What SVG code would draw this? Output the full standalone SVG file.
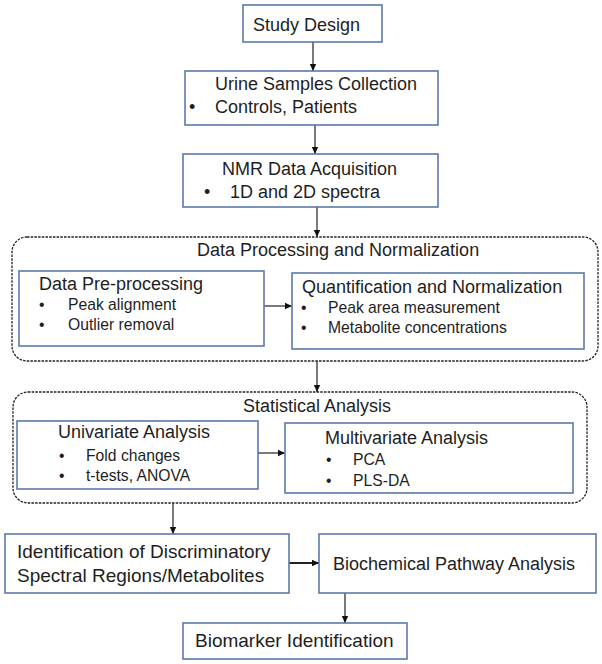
<svg xmlns="http://www.w3.org/2000/svg" width="602" height="664" viewBox="0 0 602 664">
<defs>
<marker id="ah" markerWidth="8" markerHeight="8" refX="7" refY="4" orient="auto" markerUnits="userSpaceOnUse">
<path d="M0,0.8 L7,4 L0,7.2 Z" fill="#111"/>
</marker>
<style>
.box{fill:#fff;stroke:#5a79ad;stroke-width:1.6}
.grp{fill:none;stroke:#222;stroke-width:1.3;stroke-dasharray:2.5 1.2}
text{font-family:"Liberation Sans",Arial,sans-serif;fill:#1e1e1e}
.t{font-size:18px}
.tl{font-size:19px}
.s{font-size:15.7px}
.c{stroke:#222;stroke-width:1.2;fill:none;marker-end:url(#ah)}
</style>
</defs>
<rect width="602" height="664" fill="#fff"/>
<g id="connectors">
<line class="c" x1="313" y1="42" x2="313" y2="71"/>
<line class="c" x1="315" y1="125" x2="315" y2="154"/>
<line class="c" x1="317" y1="207" x2="317" y2="237"/>
<line class="c" x1="264" y1="306" x2="292" y2="306"/>
<line class="c" x1="317" y1="361" x2="317" y2="392"/>
<line class="c" x1="258" y1="453" x2="285" y2="453"/>
<line class="c" x1="173" y1="503" x2="173" y2="534"/>
<line class="c" x1="289" y1="563" x2="319" y2="563" style="stroke-width:2"/>
<line class="c" x1="345" y1="593" x2="345" y2="623"/>
</g>
<g id="study-design">
<rect class="box" x="243" y="5" width="139" height="37"/>
<text class="t" x="253" y="31">Study Design</text>
</g>
<g id="urine">
<rect class="box" x="185" y="71" width="253" height="54"/>
<text class="t" x="215" y="90">Urine Samples Collection</text>
<text class="t" x="189" y="113">•</text>
<text class="t" x="215" y="113">Controls, Patients</text>
</g>
<g id="nmr">
<rect class="box" x="183" y="154" width="255" height="53"/>
<text class="t" x="222" y="175">NMR Data Acquisition</text>
<text class="t" x="204" y="198">•</text>
<text class="t" x="230" y="198">1D and 2D spectra</text>
</g>
<g id="data-processing">
<rect class="grp" x="12" y="237" width="586" height="124" rx="15"/>
<text class="t" x="197" y="256">Data Processing and Normalization</text>
</g>
<g id="pre-processing">
<rect class="box" x="19" y="271" width="245" height="75"/>
<text class="t" x="39" y="290">Data Pre-processing</text>
<text class="s" x="39" y="310">•</text>
<text class="s" x="68" y="310">Peak alignment</text>
<text class="s" x="39" y="330">•</text>
<text class="s" x="68" y="330">Outlier removal</text>
</g>
<g id="quantification">
<rect class="box" x="292" y="273" width="292" height="76"/>
<text class="t" x="302" y="293">Quantification and Normalization</text>
<text class="s" x="301" y="313">•</text>
<text class="s" x="328" y="313">Peak area measurement</text>
<text class="s" x="301" y="333">•</text>
<text class="s" x="328" y="333">Metabolite concentrations</text>
</g>
<g id="statistical">
<rect class="grp" x="13" y="392" width="574" height="111" rx="15"/>
<text class="t" x="243" y="412">Statistical Analysis</text>
</g>
<g id="univariate">
<rect class="box" x="17" y="421" width="241" height="68"/>
<text class="t" x="58" y="438">Univariate Analysis</text>
<text class="s" x="59" y="461">•</text>
<text class="s" x="86" y="461">Fold changes</text>
<text class="s" x="59" y="481">•</text>
<text class="s" x="86" y="481">t-tests, ANOVA</text>
</g>
<g id="multivariate">
<rect class="box" x="285" y="423" width="288" height="70"/>
<text class="t" x="325" y="444">Multivariate Analysis</text>
<text class="s" x="326" y="465">•</text>
<text class="s" x="353" y="465">PCA</text>
<text class="s" x="326" y="486">•</text>
<text class="s" x="353" y="486">PLS-DA</text>
</g>
<g id="identification">
<rect class="box" x="5" y="534" width="284" height="59"/>
<text class="tl" x="17" y="558">Identification of Discriminatory</text>
<text class="tl" x="17" y="582">Spectral Regions/Metabolites</text>
</g>
<g id="pathway">
<rect class="box" x="319" y="534" width="277" height="59"/>
<text class="t" x="333" y="570">Biochemical Pathway Analysis</text>
</g>
<g id="biomarker">
<rect class="box" x="183" y="623" width="224" height="36"/>
<text class="tl" x="195" y="647">Biomarker Identification</text>
</g>
</svg>
